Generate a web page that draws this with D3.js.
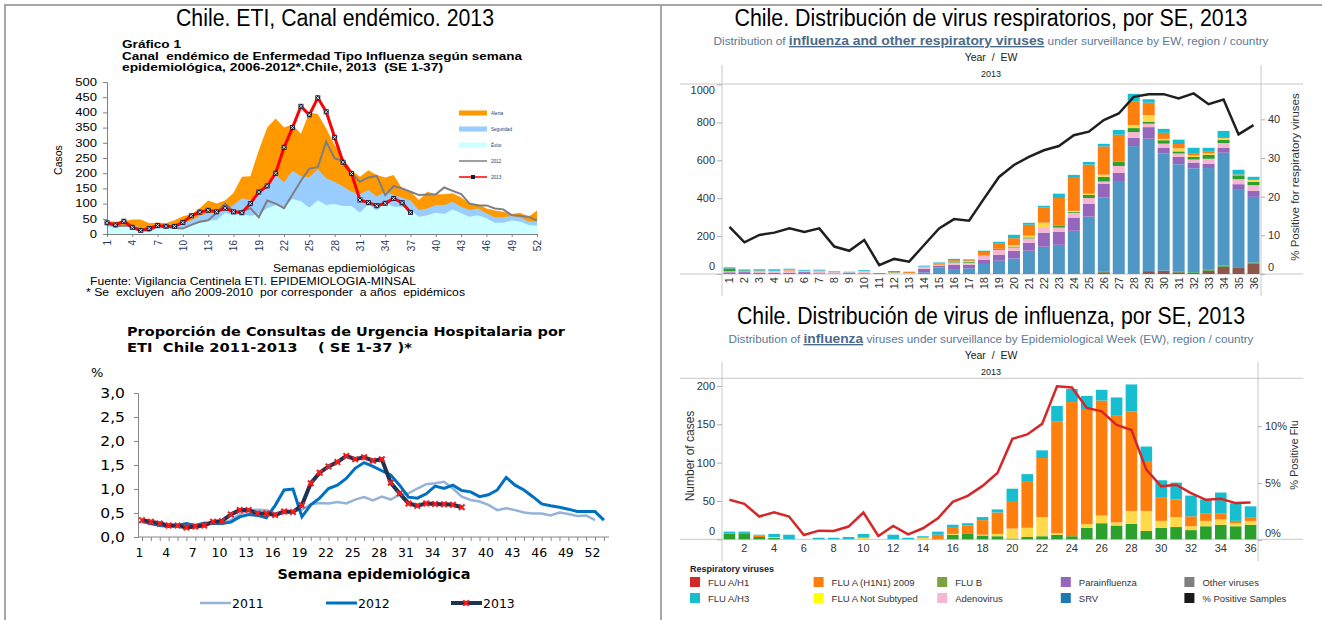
<!DOCTYPE html>
<html>
<head>
<meta charset="utf-8">
<script src="https://cdn.jsdelivr.net/npm/d3@7"></script>
<style>
  body { margin: 0; background: #fff; }
  svg { display: block; }
  text { white-space: pre; }
</style>
</head>
<body>
<svg id="chart" width="1322" height="620"></svg>
<script>
// ---------- Canal endémico ETI, SE 1-52 ----------
const semanas = [1,2,3,4,5,6,7,8,9,10,11,12,13,14,15,16,17,18,19,20,21,22,23,24,25,26,
  27,28,29,30,31,32,33,34,35,36,37,38,39,40,41,42,43,44,45,46,47,48,49,50,51,52]
const ticksCanal = [1,4,7,10,13,16,19,22,25,28,31,34,37,40,43,46,49,52]
const exito = [25,22,25,22,15,12,18,18,20,22,30,38,45,45,70,62,65,60,65,85,95,90,115,108,86,111,
  95,99,92,92,70,99,77,103,90,90,79,57,62,70,66,81,68,57,62,52,37,37,44,41,30,27]
const seguridad = [30,28,30,28,22,20,25,25,28,35,45,60,68,70,80,95,118,112,130,170,195,170,208,190,187,213,
  183,172,156,139,131,145,123,139,128,120,110,79,84,95,95,106,90,79,84,68,55,55,59,55,41,41]
const alerta = [42,40,42,48,48,35,38,35,45,58,65,85,110,100,110,135,188,190,275,350,380,350,360,330,400,395,
  347,293,249,210,188,210,194,186,194,150,139,112,139,131,131,134,120,100,99,84,77,73,66,70,57,77]
const casos2012 = [37,25,28,25,15,10,25,25,20,18,30,40,45,70,100,75,75,85,55,110,100,85,130,175,215,220,
  304,249,241,199,172,186,191,128,158,150,139,128,130,131,153,142,131,100,94,94,84,81,62,59,57,44]
const casos2013 = [37,30,42,22,12,18,28,25,25,38,60,72,78,73,85,73,70,100,138,158,
  200,285,350,420,392,448,402,318,236,199,112,103,93,101,117,103,71]
const leyendaCanal = ['Alerta', 'Seguridad', 'Éxito', '2012', '2013']

// ---------- Consultas de urgencia por ETI (%) ----------
const ticksUrg = [1,4,7,10,13,16,19,22,25,28,31,34,37,40,43,46,49,52]
const urg2011 = [.31,.27,.25,.22,.23,.24,.22,.28,.29,.28,.35,.47,.56,.57,.56,.49,.50,.53,.57,.68,.71,.70,
  .73,.70,.78,.83,.76,.84,.78,.88,.91,1.01,1.10,1.12,1.15,1.01,.84,.77,.74,.67,.56,.60,
  .56,.51,.49,.49,.45,.51,.48,.44,.45,.35]
const urg2012 = [.33,.28,.24,.22,.24,.28,.24,.29,.28,.28,.31,.42,.47,.45,.40,.66,.98,1.0,
  .42,.67,.81,1.01,1.08,1.22,1.43,1.55,1.47,1.38,1.29,1.08,.83,.81,.90,1.06,1.01,1.08,.97,.94,
  .84,.88,.98,1.24,1.08,.98,.84,.69,.65,.62,.58,.53,.53,.53,.35]
const urg2013 = [.35,.32,.28,.24,.24,.20,.22,.24,.32,.33,.47,.56,.56,.49,.49,.46,.53,.52,.66,1.12,
  1.34,1.47,1.56,1.69,1.62,1.66,1.59,1.62,1.13,.91,.70,.65,.70,.69,.68,.67,.62]
const leyendaUrg = ['2011', '2012', '2013']

// ---------- Virus respiratorios por SE 2013 ----------
const semanasEW = [1,2,3,4,5,6,7,8,9,10,11,12,13,14,15,16,17,18,19,20,21,22,23,24,25,26,27,28,29,30,31,32,33,34,35,36]
const otros3 = [0,0,0,0,0,0,0,0,0,0,0,0,0,0,0,0,0,0,0,0,0,0,0,0,0,9,0,0,11,18,9,5,18,39,32,56]
const otrosB3 = [0,0,0,0,0,0,0,0,0,0,0,0,0,0,0,0,0,0,0,0,0,0,0,0,0,5,0,0,5,0,5,4,4,5,0,5]
const srv3 = [0,0,0,0,0,0,0,0,0,0,0,0,0,9,35,26,30,53,70,82,123,144,154,228,303,389,486,675,698,617,565,549,537,596,412,346]
const parainf3 = [9,10,7,7,7,10,4,3,5,4,0,0,0,18,9,23,18,21,32,40,42,74,68,70,68,74,47,44,61,30,39,30,23,25,30,32]
const adeno3 = [5,4,9,10,12,7,14,7,4,6,0,0,2,12,5,12,11,23,26,18,23,25,23,25,30,11,37,30,18,23,18,16,26,26,26,30]
const fluB3 = [14,5,0,0,0,0,0,0,0,0,0,0,0,0,0,5,4,0,5,5,5,0,9,5,16,25,23,21,11,18,11,14,21,16,18,18]
const fluNS3 = [0,0,0,0,0,0,0,0,0,5,0,6,2,0,0,0,5,0,0,7,9,28,0,5,7,11,0,16,35,7,16,7,7,9,0,9]
const h1n1_3 = [0,0,2,0,5,0,0,0,0,0,0,3,6,0,7,7,5,19,30,37,58,79,147,174,153,149,142,126,65,32,23,9,9,7,7,5]
const h3_3 = [3,5,7,8,4,5,5,4,3,5,5,7,2,5,5,7,4,7,7,18,10,10,23,16,14,14,25,39,18,21,23,32,21,32,25,12]
const h1_3 = [3,0,0,0,0,0,0,0,0,0,0,0,0,0,0,0,0,0,0,0,0,0,0,0,0,0,0,0,0,0,0,0,0,0,0,0]
const pctResp = [12.2,8.2,10.1,10.7,11.8,10.9,11.8,7.1,6.0,8.8,2.3,3.9,3.2,7.5,11.8,14.2,13.8,19.5,
  25.1,28.2,30.3,32.0,33.1,35.9,36.8,39.8,41.5,45.8,46.5,46.5,45.4,46.7,43.9,45.1,36.1,38.5]
const ticksResp = [0, 200, 400, 600, 800, 1000]
const ticksPctResp = [0, 10, 20, 30, 40]

// ---------- Virus de influenza por SE 2013 ----------
const fluB4 = [7,7,3,2,0,0,0,0,0,0,0,0,0,0,0,6,7,5,4,1,3,4,6,4,15,21,18,20,11,15,16,12,17,19,17,19]
const fluNS4 = [0,0,0,1,0,0,0,0,0,2,0,0,0,2,0,1,0,1,3,13,12,25,2,0,5,10,4,17,26,9,13,5,7,7,4,5]
const h1n1_4 = [1,0,2,0,0,0,0,0,0,1,0,0,0,1,6,9,11,19,28,36,61,77,146,175,150,150,140,130,64,31,23,13,10,8,3,4]
const h3_4 = [2,3,1,4,6,0,2,2,3,4,0,6,2,1,4,3,3,4,4,16,9,10,20,17,17,14,23,35,20,22,22,27,18,27,23,15]
const pctFlu = [3.53,3.18,2.06,2.44,2.06,0.44,0.82,0.79,1.18,2.41,0.35,1.24,0.50,1.03,1.91,3.35,3.88,4.75,
  5.88,8.88,9.27,10.2,13.5,13.4,11.6,11.3,10.1,9.65,6.18,4.71,4.85,4.12,3.53,3.62,3.24,3.29]
const ticksFlu = [0, 50, 100, 150, 200]
const ticksPctFlu = [0, 5, 10]
const ticksEWFlu = [2,4,6,8,10,12,14,16,18,20,22,24,26,28,30,32,34,36]

const leyendaVirus = ['FLU A/H1', 'FLU A (H1N1) 2009', 'FLU B', 'Parainfluenza', 'Other viruses',
  'FLU A/H3', 'FLU A Not Subtyped', 'Adenovirus', 'SRV', '% Positive Samples']

const NARROW = "'Liberation Sans Narrow', 'Arial Narrow', 'Liberation Sans', sans-serif"
const ARIAL = "'Liberation Sans', Arial, sans-serif"
const VERD = "'DejaVu Sans', Verdana, sans-serif"

const barColor = {
  otros: '#8c564b', otrosB: '#2ca02c', srv: '#4f98c6', parainf: '#9467bd', adeno: '#f7b6d2',
  fluB: '#2ca02c', fluNS: '#ffd94a', h1n1: '#ff7f0e', h3: '#17becf', h1: '#d62728'
}
const legendColor = ['#d62728', '#ff7f0e', '#7ba23f', '#9467bd', '#7f7f7f',
  '#17becf', '#ffff00', '#f7b6d2', '#1f77b4', '#1a1a1a']

const svg = d3.select('#chart')

function label(g, x, y, s, font, size, weight, anchor, fill) {
  return g.append('text')
    .attr('x', x).attr('y', y)
    .attr('text-anchor', anchor || 'start')
    .attr('fill', fill || '#000')
    .style('font-family', font)
    .style('font-size', size + 'px')
    .style('font-weight', weight || 'normal')
    .text(s)
}

function fit(sel, w) {
  return sel.attr('textLength', w).attr('lengthAdjust', 'spacingAndGlyphs')
}

// left half of the picture is stretched sideways
function widen(sel, k) {
  sel.each(function() {
    const w = this.getComputedTextLength()
    if (w > 0) d3.select(this).attr('textLength', w * k).attr('lengthAdjust', 'spacingAndGlyphs')
  })
  return sel
}

function drawFrame() {
  const f = svg.append('g').attr('stroke', '#a6a6a6').attr('stroke-width', 2)
  f.append('line').attr('x1', 4).attr('x2', 1322).attr('y1', 5).attr('y2', 5)
  f.append('line').attr('x1', 5).attr('x2', 5).attr('y1', 4).attr('y2', 620)
  f.append('line').attr('x1', 661).attr('x2', 661).attr('y1', 4).attr('y2', 620)
}

function drawCanal() {
  const g = svg.append('g')
  const x = d3.scaleLinear().domain([1, 52]).range([107, 537])
  const y = d3.scaleLinear().domain([0, 500]).range([234, 82])

  fit(label(g, 335, 26, 'Chile. ETI, Canal endémico. 2013', NARROW, 23, 'normal', 'middle'), 318)
  fit(label(g, 122, 48, 'Gráfico 1', ARIAL, 10.5, 'bold'), 59)
  fit(label(g, 122, 59.5, 'Canal  endémico de Enfermedad Tipo Influenza según semana', ARIAL, 10.5, 'bold'), 400)
  fit(label(g, 122, 71, 'epidemiológica, 2006-2012*.Chile, 2013  (SE 1-37)', ARIAL, 10.5, 'bold'), 321)

  const area = d3.area().x((d, i) => x(semanas[i])).y0(y(0)).y1(d => y(d))
  g.append('path').datum(alerta).attr('d', area).attr('fill', '#ff9900')
  g.append('path').datum(seguridad).attr('d', area).attr('fill', '#99ccff')
  g.append('path').datum(exito).attr('d', area).attr('fill', '#ccffff')

  const yAxis = g.append('g')
    .attr('transform', `translate(${x(1)},0)`)
    .call(d3.axisLeft(y).tickValues(d3.range(0, 501, 50)).tickSize(4).tickPadding(6))
  yAxis.select('.domain').attr('stroke', '#808080')
  yAxis.selectAll('line').attr('stroke', '#808080')
  yAxis.selectAll('text').style('font-family', ARIAL).style('font-size', '10px').attr('fill', '#000')
  widen(yAxis.selectAll('text'), 1.3)

  const xAxis = g.append('g')
    .attr('transform', `translate(0,${y(0)})`)
    .call(d3.axisBottom(x).tickValues(ticksCanal).tickSize(3).tickSizeOuter(0))
  xAxis.select('.domain').attr('stroke', '#808080')
  xAxis.selectAll('line').attr('stroke', '#808080')
  xAxis.selectAll('text')
    .attr('transform', 'rotate(-90)')
    .attr('text-anchor', 'end')
    .attr('x', -6).attr('y', 0).attr('dy', '.35em')
    .attr('fill', '#1f3a5f')
    .style('font-family', ARIAL).style('font-size', '10px')

  const line = d3.line().x((d, i) => x(semanas[i])).y(d => y(d))
  g.append('path').datum(casos2012).attr('d', line)
    .attr('fill', 'none').attr('stroke', '#7f7f7f').attr('stroke-width', 2)
  g.append('path').datum(casos2013).attr('d', line)
    .attr('fill', 'none').attr('stroke', '#ff0000').attr('stroke-width', 3)

  const mk = g.selectAll('g.mk')
    .data(casos2013)
    .join('g')
    .attr('class', 'mk')
    .attr('transform', (d, i) => `translate(${x(semanas[i])},${y(d)})`)
  mk.append('rect').attr('x', -2.5).attr('y', -2.5).attr('width', 5).attr('height', 5).attr('fill', '#1c1c3a')
  mk.append('path').attr('d', d3.symbol(d3.symbolTimes, 8)).attr('stroke', '#fff').attr('stroke-width', 0.8)

  label(g, 62, 160, 'Casos', ARIAL, 10.5, 'normal', 'middle')
    .attr('transform', 'rotate(-90,62,160)')
  fit(label(g, 344, 272, 'Semanas epdiemiológicas', ARIAL, 10.5, 'normal', 'middle'), 142)
  fit(label(g, 90, 285, 'Fuente: Vigilancia Centinela ETI. EPIDEMIOLOGIA-MINSAL', ARIAL, 10, 'normal'), 326)
  fit(label(g, 86, 295.5, '* Se  excluyen  año 2009-2010  por corresponder  a años  epidémicos', ARIAL, 10, 'normal'), 379)

  // legend
  const lg = g.selectAll('g.lg')
    .data(leyendaCanal)
    .join('g')
    .attr('class', 'lg')
    .attr('transform', (d, i) => `translate(459,${113 + i * 16})`)
  lg.filter((d, i) => i < 3).append('rect')
    .attr('x', 0).attr('y', -2.5).attr('width', 28).attr('height', 5)
    .attr('fill', (d, i) => ['#ff9900', '#99ccff', '#ccffff'][i])
  lg.filter((d, i) => i >= 3).append('line')
    .attr('x1', 0).attr('x2', 28)
    .attr('stroke', (d, i) => i === 0 ? '#7f7f7f' : '#ff0000').attr('stroke-width', 1.5)
  lg.filter(d => d === '2013').append('rect')
    .attr('x', 12).attr('y', -2).attr('width', 4).attr('height', 4).attr('fill', '#1c1c3a')
  lg.append('text').attr('x', 32).attr('y', 1.6)
    .attr('fill', '#1f3a5f').style('font-family', ARIAL).style('font-size', '4.6px')
    .text(d => d)
}

function drawUrgencia() {
  const g = svg.append('g')
  const x = d3.scaleLinear().domain([1, 52]).range([142, 595])
  const y = d3.scaleLinear().domain([0, 3]).range([537, 393])
  const comma = d => d.toFixed(1).replace('.', ',')

  fit(label(g, 127, 336, 'Proporción de Consultas de Urgencia Hospitalaria por', VERD, 12.5, 'bold'), 438)
  fit(label(g, 127, 352, 'ETI  Chile 2011-2013    ( SE 1-37 )*', VERD, 12.5, 'bold'), 285)
  label(g, 91, 377, '%', VERD, 13, 'normal')

  const yAxis = g.append('g')
    .attr('transform', 'translate(138,0)')
    .call(d3.axisLeft(y).tickValues([0, .5, 1, 1.5, 2, 2.5, 3]).tickFormat(comma).tickSize(4).tickPadding(9))
  yAxis.select('.domain').attr('stroke', '#868686')
  yAxis.selectAll('line').attr('stroke', '#868686')
  yAxis.selectAll('text').style('font-family', VERD).style('font-size', '13.5px').attr('fill', '#000')
  widen(yAxis.selectAll('text'), 1.15)

  g.append('line').attr('x1', 138).attr('x2', 609).attr('y1', y(0)).attr('y2', y(0))
    .attr('stroke', '#868686')
  const xAxis = g.append('g')
    .attr('transform', `translate(0,${y(0)})`)
    .call(d3.axisBottom(x).tickValues(urg2012.map((d, i) => i + 1)).tickSize(4).tickPadding(7)
      .tickFormat(d => ticksUrg.includes(d) ? d : ''))
  xAxis.select('.domain').remove()
  xAxis.selectAll('line').attr('stroke', '#868686')
  xAxis.selectAll('text').attr('x', -3)
    .style('font-family', VERD).style('font-size', '12.5px').attr('fill', '#000')

  fit(label(g, 374, 579, 'Semana epidemiológica', VERD, 14, 'bold', 'middle'), 193)

  const line = d3.line().x((d, i) => x(i + 1)).y(d => y(d))
  g.append('path').datum(urg2011).attr('d', line)
    .attr('fill', 'none').attr('stroke', '#95b3d7').attr('stroke-width', 2.5)
  g.append('path').datum(urg2012).attr('d', line)
    .attr('fill', 'none').attr('stroke', '#0070c0').attr('stroke-width', 3)
  g.append('path').datum(urg2013).attr('d', line)
    .attr('fill', 'none').attr('stroke', '#1f3251').attr('stroke-width', 4)
  g.selectAll('path.mk2')
    .data(urg2013)
    .join('path')
    .attr('class', 'mk2')
    .attr('transform', (d, i) => `translate(${x(i + 1)},${y(d)})`)
    .attr('d', d3.symbol(d3.symbolTimes, 22))
    .attr('stroke', '#ff1a1a').attr('stroke-width', 2)

  const lgX = [200, 326, 451]
  const lgColor = ['#95b3d7', '#0070c0', '#1f3251']
  const lg = g.selectAll('g.lg2')
    .data(leyendaUrg)
    .join('g')
    .attr('class', 'lg2')
    .attr('transform', (d, i) => `translate(${lgX[i]},603)`)
  lg.append('line').attr('x1', 0).attr('x2', 31)
    .attr('stroke', (d, i) => lgColor[i]).attr('stroke-width', (d, i) => [2.5, 3, 4][i])
  lg.filter(d => d === '2013').append('path')
    .attr('transform', 'translate(15,0)')
    .attr('d', d3.symbol(d3.symbolTimes, 22))
    .attr('stroke', '#ff1a1a').attr('stroke-width', 2)
  lg.append('text').attr('x', 32).attr('y', 4.5)
    .style('font-family', VERD).style('font-size', '12.5px').attr('fill', '#000')
    .text(d => d)
}

function tableauHeader(g, yTitle, title, titleW, boldPart, pre, post, subW, yLine, xR, yTop) {
  fit(label(g, 991, yTitle, title, NARROW, 23, 'normal', 'middle'), titleW)
  const sub = label(g, 991, yTitle + 19, '', NARROW, 11.5, 'normal', 'middle', '#5b7897')
  sub.append('tspan').text(pre)
  sub.append('tspan').text(boldPart)
    .style('font-weight', 'bold').style('font-size', '13.5px')
    .style('text-decoration', 'underline').attr('fill', '#4b6a8a')
  sub.append('tspan').text(post)
  fit(sub, subW)
  label(g, 991, yTitle + 35, 'Year  /  EW', ARIAL, 10.5, 'normal', 'middle', '#222')
  label(g, 991, yTitle + 51, '2013', ARIAL, 9, 'normal', 'middle', '#222')
  const gl = g.append('g').attr('stroke', '#c8c8c8').attr('stroke-width', 1)
  gl.append('line').attr('x1', 680).attr('x2', 1303).attr('y1', yLine[0]).attr('y2', yLine[0])
  gl.append('line').attr('x1', 680).attr('x2', 1303).attr('y1', yLine[1]).attr('y2', yLine[1])
  gl.append('line').attr('x1', 722).attr('x2', 722).attr('y1', yTop).attr('y2', yLine[1] + 22)
  gl.append('line').attr('x1', xR).attr('x2', xR).attr('y1', yTop).attr('y2', yLine[1] + 22)
}

function styleAxis(ax, shiftEnds) {
  ax.select('.domain').remove()
  ax.selectAll('line').attr('stroke', '#b0b0b0')
  ax.selectAll('text').style('font-family', ARIAL).style('font-size', '11px').attr('fill', '#333')
  ax.selectAll('.tick text').attr('dy', (d, i, n) => {
    if (i === 0) return shiftEnds[0]
    if (i === n.length - 1 && shiftEnds[1] != null) return shiftEnds[1]
    return '0.32em'
  })
}

function drawRespiratorios() {
  const g = svg.append('g')
  tableauHeader(g, 26, 'Chile. Distribución de virus respiratorios, por SE, 2013', 513,
    'influenza and other respiratory viruses', 'Distribution of ',
    ' under surveillance by EW, region / country', 555, [84, 274], 1261, 65)

  const x = d3.scaleBand().domain(semanasEW).range([722, 1261]).paddingInner(0.2).paddingOuter(0.1)
  const y = d3.scaleLinear().domain([0, 1000]).range([274, 84.5])
  const yR = d3.scaleLinear().domain([0, 49]).range([274, 84.5])

  const keys = ['otros', 'otrosB', 'srv', 'parainf', 'adeno', 'fluB', 'fluNS', 'h1n1', 'h3', 'h1']
  const rows = semanasEW.map((w, i) => ({
    ew: w, otros: otros3[i], otrosB: otrosB3[i], srv: srv3[i], parainf: parainf3[i], adeno: adeno3[i],
    fluB: fluB3[i], fluNS: fluNS3[i], h1n1: h1n1_3[i], h3: h3_3[i], h1: h1_3[i]
  }))
  const series = d3.stack().keys(keys)(rows)

  g.append('g').selectAll('g')
    .data(series)
    .join('g')
    .attr('fill', s => barColor[s.key])
    .selectAll('rect')
    .data(s => s)
    .join('rect')
    .attr('x', d => x(d.data.ew))
    .attr('y', d => y(d[1]))
    .attr('width', x.bandwidth())
    .attr('height', d => y(d[0]) - y(d[1]))

  g.append('path').datum(pctResp)
    .attr('d', d3.line().x((d, i) => x(semanasEW[i]) + x.bandwidth() / 2).y(d => yR(d)))
    .attr('fill', 'none').attr('stroke', '#1f1f1f').attr('stroke-width', 2.5)

  const yl = g.append('g').attr('transform', 'translate(722,0)')
    .call(d3.axisLeft(y).tickValues(ticksResp).tickFormat(d3.format('d')).tickSize(5).tickPadding(2))
  styleAxis(yl, ['-0.4em', '0.85em'])
  const yr = g.append('g').attr('transform', 'translate(1261,0)')
    .call(d3.axisRight(yR).tickValues(ticksPctResp).tickSize(4).tickPadding(3))
  styleAxis(yr, ['-0.3em', null])

  g.selectAll('text.ew')
    .data(semanasEW)
    .join('text')
    .attr('class', 'ew')
    .attr('transform', d => `translate(${x(d) + x.bandwidth() / 2 + 4},277) rotate(-90)`)
    .attr('text-anchor', 'end')
    .style('font-family', ARIAL).style('font-size', '11px').attr('fill', '#333')
    .text(d => d)

  label(g, 1299, 177, '% Positive for respiratory viruses', ARIAL, 11.5, 'normal', 'middle', '#333')
    .attr('transform', 'rotate(-90,1299,177)')
}

function drawInfluenza() {
  const g = svg.append('g')
  tableauHeader(g, 324, 'Chile. Distribución de virus de influenza, por SE, 2013', 508,
    'influenza', 'Distribution of ',
    ' viruses under surveillance by Epidemiological Week (EW), region / country', 525, [378.3, 539.3], 1258, 362)

  const x = d3.scaleBand().domain(semanasEW).range([722, 1258]).paddingInner(0.22).paddingOuter(0.11)
  const y = d3.scaleLinear().domain([0, 210]).range([539.3, 378.3])
  const yR = d3.scaleLinear().domain([0, 14.2]).range([540, 378.3])

  const keys = ['fluB', 'fluNS', 'h1n1', 'h3']
  const rows = semanasEW.map((w, i) => ({ ew: w, fluB: fluB4[i], fluNS: fluNS4[i], h1n1: h1n1_4[i], h3: h3_4[i] }))
  const series = d3.stack().keys(keys)(rows)

  g.append('g').selectAll('g')
    .data(series)
    .join('g')
    .attr('fill', s => barColor[s.key])
    .selectAll('rect')
    .data(s => s)
    .join('rect')
    .attr('x', d => x(d.data.ew))
    .attr('y', d => y(d[1]))
    .attr('width', x.bandwidth())
    .attr('height', d => y(d[0]) - y(d[1]))

  g.append('path').datum(pctFlu)
    .attr('d', d3.line().x((d, i) => x(semanasEW[i]) + x.bandwidth() / 2).y(d => yR(d)))
    .attr('fill', 'none').attr('stroke', '#d62728').attr('stroke-width', 2.5)

  const yl = g.append('g').attr('transform', 'translate(722,0)')
    .call(d3.axisLeft(y).tickValues(ticksFlu).tickSize(5).tickPadding(2))
  styleAxis(yl, ['-0.4em', null])
  const yr = g.append('g').attr('transform', 'translate(1258,0)')
    .call(d3.axisRight(yR).tickValues(ticksPctFlu).tickFormat(d => d + '%').tickSize(4).tickPadding(3))
  styleAxis(yr, ['-0.3em', null])

  g.selectAll('text.ew')
    .data(ticksEWFlu)
    .join('text')
    .attr('class', 'ew')
    .attr('x', d => x(d) + x.bandwidth() / 2)
    .attr('y', 552)
    .attr('text-anchor', 'middle')
    .style('font-family', ARIAL).style('font-size', '11px').attr('fill', '#333')
    .text(d => d)

  label(g, 694, 456, 'Number of cases', ARIAL, 12, 'normal', 'middle', '#333')
    .attr('transform', 'rotate(-90,694,456)')
  label(g, 1298, 455, '% Positive Flu', ARIAL, 11, 'normal', 'middle', '#333')
    .attr('transform', 'rotate(-90,1298,455)')

  // legend
  label(g, 690, 572, 'Respiratory viruses', ARIAL, 9, 'bold', 'start', '#222')
  const lg = g.selectAll('g.lgv')
    .data(leyendaVirus)
    .join('g')
    .attr('class', 'lgv')
    .attr('transform', (d, i) => `translate(${690 + (i % 5) * 123.6},${582 + Math.floor(i / 5) * 16})`)
  lg.append('rect').attr('x', 0).attr('y', -5).attr('width', 10).attr('height', 10)
    .attr('fill', (d, i) => legendColor[i])
  lg.append('text').attr('x', 18).attr('y', 3.5)
    .style('font-family', ARIAL).style('font-size', '9.5px').attr('fill', '#333')
    .text(d => d)
}

drawFrame()
drawCanal()
drawUrgencia()
drawRespiratorios()
drawInfluenza()
</script>
</body>
</html>
